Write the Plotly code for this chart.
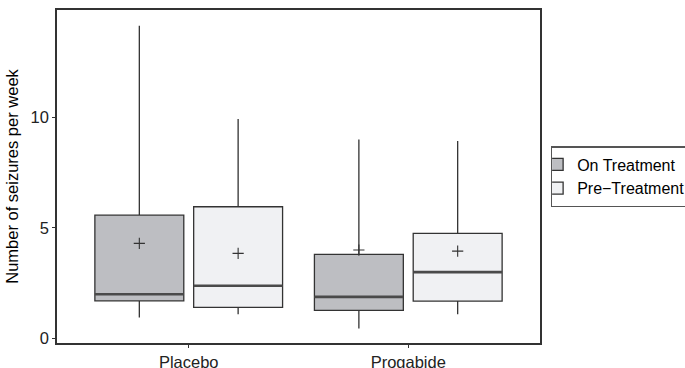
import plotly.graph_objects as go

# Weekly seizure counts summarised per treatment arm
groups = ["Placebo", "Progabide"]

on_q1 = [1.70, 1.27]
on_median = [2.00, 1.88]
on_q3 = [5.58, 3.80]
on_low = [0.95, 0.45]
on_high = [14.16, 9.01]
on_mean = [4.30, 4.00]

pre_q1 = [1.40, 1.69]
pre_median = [2.38, 3.00]
pre_q3 = [5.96, 4.75]
pre_low = [1.09, 1.09]
pre_high = [9.93, 8.94]
pre_mean = [3.85, 3.95]

series = [
    ("On Treatment", "#bdbec2", on_q1, on_median, on_q3, on_low, on_high, on_mean),
    ("Pre\u2212Treatment", "#f0f1f3", pre_q1, pre_median, pre_q3, pre_low, pre_high, pre_mean),
]

# dodge layout: two boxes per group, each 0.405 wide, centred at +/-0.225
dodge = [-0.225, 0.225]
box_w = 0.405

FONT = "Liberation Sans, Arial, sans-serif"
FS = 16.5
fig = go.Figure()

for k, (name, fill, q1, med, q3, lo, hi, mn) in enumerate(series):
    xs = [i + dodge[k] for i in range(len(groups))]
    fig.add_trace(go.Box(
        name=name,
        x=xs, q1=q1, median=med, q3=q3,
        lowerfence=lo, upperfence=hi,
        width=box_w,
        fillcolor=fill,
        line=dict(color="#333333", width=1.3),
        whiskerwidth=0,
        boxpoints=False,
        hoverinfo="skip",
    ))

for k, (name, fill, q1, med, q3, lo, hi, mn) in enumerate(series):
    xs = [i + dodge[k] for i in range(len(groups))]
    # thicker median bars
    mx, my = [], []
    for x, m in zip(xs, med):
        mx += [x - box_w / 2, x + box_w / 2, None]
        my += [m, m, None]
    fig.add_trace(go.Scatter(
        x=mx, y=my, mode="lines",
        line=dict(color="#4a4a4a", width=2.6),
        showlegend=False, hoverinfo="skip",
    ))
    # group means
    fig.add_trace(go.Scatter(
        x=xs, y=mn, mode="markers",
        marker=dict(symbol="cross-thin", size=8,
                    line=dict(color="#333333", width=1.1)),
        showlegend=False, hoverinfo="skip",
    ))

fig.update_layout(
    width=685, height=368,
    margin=dict(l=57, r=145, t=10, b=25, autoexpand=False),
    paper_bgcolor="white", plot_bgcolor="white",
    font=dict(family=FONT, size=FS, color="#000000"),
    showlegend=True,
    legend=dict(
        x=1.022, xanchor="left", y=0.5, yanchor="middle",
        bordercolor="#555555", borderwidth=1.5, bgcolor="white",
        font=dict(family=FONT, size=16, color="#000000"),
        indentation=-15,
        tracegroupgap=0,
    ),
)

fig.update_xaxes(
    range=[-0.6, 1.6], automargin=False,
    tickmode="array", tickvals=list(range(len(groups))), ticktext=groups,
    showgrid=False, zeroline=False,
    showline=True, mirror=True, linecolor="#333333", linewidth=1.5,
    ticks="outside", ticklen=3, tickcolor="#333333", tickwidth=1,
    tickfont=dict(family=FONT, size=FS, color="#222222"),
)
fig.update_yaxes(
    range=[-0.21, 14.87], automargin=False,
    tickmode="array", tickvals=[0, 5, 10], ticktext=["0", "5", "10"],
    showgrid=False, zeroline=False,
    showline=True, mirror=True, linecolor="#333333", linewidth=1.5,
    ticks="outside", ticklen=3, tickcolor="#333333", tickwidth=1,
    tickfont=dict(family=FONT, size=FS, color="#222222"),
    title=dict(text="Number of seizures per week",
               font=dict(family=FONT, size=FS, color="#000000"), standoff=8),
)

fig.write_html("out.html")
